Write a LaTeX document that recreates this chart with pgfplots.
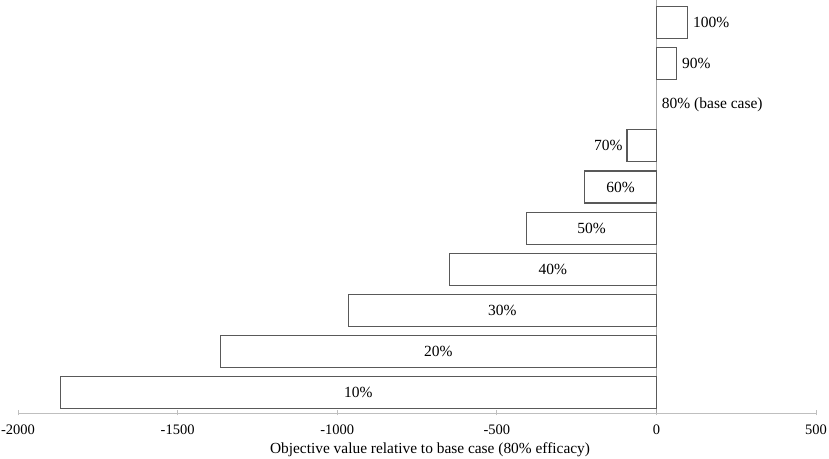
\documentclass[border=0pt]{standalone}
\usepackage{pgfplots}
\pgfplotsset{compat=1.18}
\usepackage{fontspec}
\setmainfont{Liberation Serif}
\definecolor{barline}{HTML}{595959}
\definecolor{axgray}{HTML}{BFBFBF}
\definecolor{zeroline}{HTML}{A6A6A6}
\begin{document}
\begin{tikzpicture}
\begin{axis}[
  scale only axis,
  width=798pt, height=413pt,
  xmin=-2000, xmax=500,
  ymin=0.5, ymax=10.55,
  axis x line=bottom,
  axis y line=none,
  axis line style={-, draw=axgray, line width=0.8pt},
  xtick={-2000,-1500,-1000,-500,0,500},
  ytick=\empty,
  tick align=center,
  major tick length=5pt,
  tick style={draw=axgray, line width=0.8pt},
  xticklabel style={font=\fontsize{14.5}{16}\selectfont, yshift=-6pt},
  /pgf/number format/assume math mode=true,
  /pgf/number format/1000 sep={},
  xlabel={Objective value relative to base case (80\% efficacy)},
  xlabel style={font=\fontsize{15.4}{17}\selectfont, yshift=-1pt, xshift=13pt},
  clip=false,
]
\addplot[draw=zeroline, line width=0.8pt] coordinates {(0,0.5) (0,10.55)};
\addplot[xbar, bar width=32pt, draw=barline, fill=white, line width=1.1pt] coordinates {
  (-1868,1) (-1367,2) (-965,3) (-649,4) (-406,5) (-225,6) (-92,7) (63,9) (98,10)
};
\addplot[draw=none, mark=none, nodes near coords, point meta=explicit symbolic,
  every node near coord/.append style={anchor=center, font=\fontsize{15.5}{17}\selectfont, text=black}]
  coordinates {
  (-934,1) [10\%] (-683.5,2) [20\%] (-482.5,3) [30\%] (-324.5,4) [40\%] (-203,5) [50\%] (-112.5,6) [60\%]
};
\addplot[draw=none, mark=none, nodes near coords, point meta=explicit symbolic,
  every node near coord/.append style={anchor=east, xshift=-1pt, font=\fontsize{15.5}{17}\selectfont, text=black}]
  coordinates {
  (-92,7) [70\%]
};
\addplot[draw=none, mark=none, nodes near coords, point meta=explicit symbolic,
  every node near coord/.append style={anchor=west, xshift=2pt, font=\fontsize{15.5}{17}\selectfont, text=black}]
  coordinates {
  (0,8) [80\% (base case)] (63,9) [90\%] (98,10) [100\%]
};
\end{axis}
\pgfresetboundingbox
\path (current axis.south west) ++(-18pt,-46pt) coordinate (bbA);
\path (current axis.north east) ++(13pt,0pt) coordinate (bbB);
\useasboundingbox (bbA) rectangle (bbB);
\end{tikzpicture}
\end{document}
